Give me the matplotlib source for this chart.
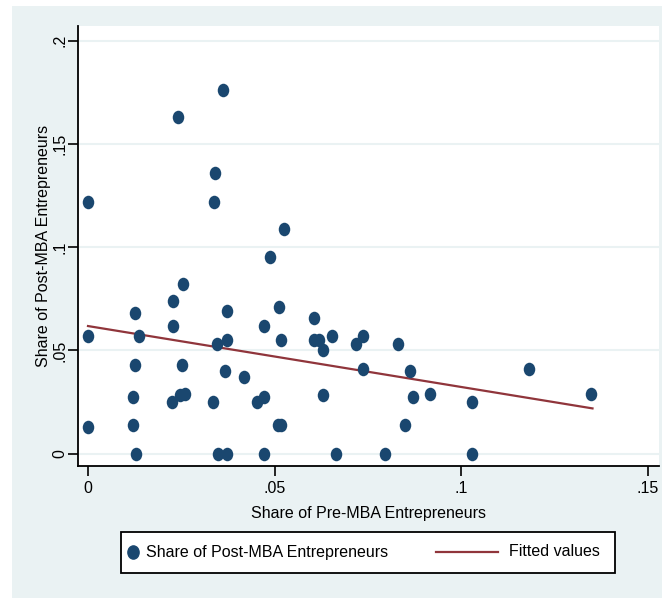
import numpy as np
import matplotlib.pyplot as plt
from matplotlib.markers import MarkerStyle
from matplotlib.patches import Rectangle
from matplotlib.lines import Line2D
from matplotlib.transforms import Affine2D

plt.rcParams['font.family'] = ['Liberation Sans', 'DejaVu Sans']

# school-level shares
pre_mba = [0.0363, 0.0242, 0.0341, 0.0, 0.0337, 0.0526, 0.0488, 0.0255, 0.0229,
           0.0125, 0.0372, 0.0512, 0.0229, 0.0472, 0.0, 0.0138, 0.0372, 0.0516,
           0.0346, 0.0125, 0.0251, 0.0368, 0.0417, 0.0121, 0.0260, 0.0246,
           0.0224, 0.0336, 0.0453, 0.0472, 0.0, 0.0121, 0.0510, 0.0518,
           0.0129, 0.0349, 0.0372, 0.0472, 0.0606, 0.0606, 0.0620, 0.0655,
           0.0629, 0.0737, 0.0719, 0.0831, 0.0737, 0.0863, 0.0629, 0.0872,
           0.0917, 0.1029, 0.0849, 0.0665, 0.0795, 0.1029, 0.1183, 0.1349]
post_mba = [0.176, 0.163, 0.136, 0.122, 0.122, 0.109, 0.0952, 0.082, 0.0741,
            0.0681, 0.0691, 0.071, 0.062, 0.062, 0.057, 0.057, 0.055, 0.055,
            0.053, 0.0431, 0.0431, 0.0402, 0.0371, 0.0272, 0.0291, 0.0283,
            0.025, 0.025, 0.025, 0.0272, 0.0131, 0.0141, 0.0141, 0.0141,
            0.0, 0.0, 0.0, 0.0, 0.0659, 0.055, 0.055, 0.057,
            0.050, 0.057, 0.053, 0.053, 0.0412, 0.040, 0.0282, 0.0272,
            0.0291, 0.025, 0.0141, 0.0, 0.0, 0.0, 0.041, 0.0291]

# fitted line endpoints
fit_x = [0.0, 0.1352]
fit_y = [0.0618, 0.0219]

x_ticks = [0, 0.05, 0.1, 0.15]
x_labels = ['0', '.05', '.1', '.15']
y_ticks = [0, 0.05, 0.1, 0.15, 0.2]
y_labels = ['0', '.05', '.1', '.15', '.2']

navy = '#1a476f'
maroon = '#90353b'
bg = '#eaf2f3'
fs = 11.5

W, H = 662, 598
fig = plt.figure(figsize=(W / 100, H / 100), dpi=100, facecolor='white')
fig.add_artist(Rectangle((12 / W, 0), 1 - 12 / W, 1 - 6 / H,
                         transform=fig.transFigure, facecolor=bg,
                         edgecolor='none', zorder=-10))

ax = fig.add_axes([78.3 / W, (H - 466) / H, (659.3 - 78.3) / W, (466 - 25.7) / H])
ax.set_facecolor('white')

dot = MarkerStyle('o', transform=Affine2D().scale(0.85, 1.0))
ax.scatter(pre_mba, post_mba, s=95, marker=dot, color=navy, linewidths=0, zorder=3)
ax.plot(fit_x, fit_y, color=maroon, lw=1.6, zorder=2)

ax.set_xlim(-0.0026, 0.1531)
ax.set_ylim(-0.006, 0.2073)
ax.set_xticks(x_ticks)
ax.set_xticklabels(x_labels, fontsize=fs)
ax.set_yticks(y_ticks)
ax.set_yticklabels(y_labels, fontsize=fs, rotation=90, va='center')
ax.tick_params(length=7, width=1.2, color='black', direction='out')
ax.tick_params(axis='x', pad=4)
ax.tick_params(axis='y', pad=1)
ax.yaxis.grid(True, color=bg, lw=1.5)
ax.set_axisbelow(True)

for s in ['top', 'right']:
    ax.spines[s].set_visible(False)
for s in ['left', 'bottom']:
    ax.spines[s].set_linewidth(1.3)

ax.set_xlabel('Share of Pre-MBA Entrepreneurs', fontsize=fs, labelpad=7)
ax.set_ylabel('Share of Post-MBA Entrepreneurs', fontsize=fs, labelpad=1)

# legend box, drawn in figure pixels
def fx(px):
    return px / W

def fy(py):
    return 1 - py / H

fig.add_artist(Rectangle((fx(121), fy(573)), fx(615) - fx(121), fy(532) - fy(573),
                         transform=fig.transFigure, facecolor='white',
                         edgecolor='black', lw=1.3, zorder=5))
ly = fy(552)
fig.add_artist(Line2D([fx(133)], [ly], marker=dot, ms=9.5, color=navy, lw=0,
                      transform=fig.transFigure, zorder=6))
fig.text(fx(146), ly, 'Share of Post-MBA Entrepreneurs', fontsize=fs,
         va='center', ha='left', zorder=6)
fig.add_artist(Line2D([fx(436), fx(498)], [ly, ly], color=maroon, lw=1.6,
                      transform=fig.transFigure, zorder=6))
fig.text(fx(509), ly, 'Fitted values', fontsize=fs, va='center', ha='left', zorder=6)

fig.savefig('out.png', dpi=100, facecolor='white')
